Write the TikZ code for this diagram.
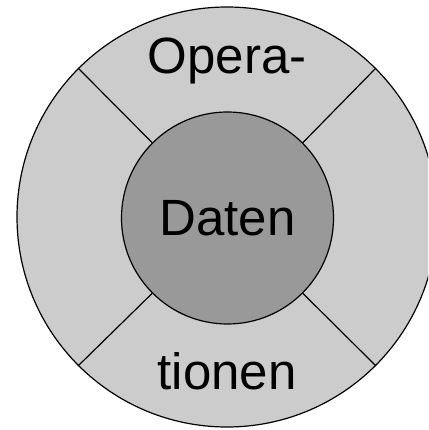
\documentclass[tikz,border=0pt]{standalone}
\usepackage{fontspec}
\setmainfont{Liberation Sans}
\usepackage{tikz}

\definecolor{ringgray}{gray}{0.8}
\definecolor{coregray}{gray}{0.6}

\tikzset{
  ring/.style={draw, circle, line width=1.2pt, fill=ringgray, minimum size=420pt, inner sep=0pt},
  core/.style={draw, circle, line width=1.2pt, fill=coregray, minimum size=212pt, inner sep=0pt},
  label/.style={anchor=base, font=\fontsize{51}{60}\selectfont}
}

\begin{document}
\begin{tikzpicture}[x=1pt, y=1pt]
    \useasboundingbox (0,0) rectangle (428,430);
    \clip (0,0) rectangle (428,430);

    % Outer ring and inner core
    \node[ring] (ops) at (227,213) {};
    \node[core, font=\fontsize{51}{60}\selectfont] (daten) at (227.5,212) {Daten};

    % Dividing spokes
    \draw[line width=1.2pt] (daten.45) -- (ops.45);
    \draw[line width=1.2pt] (daten.135) -- (ops.135);
    \draw[line width=1.2pt] (daten.225) -- (ops.225);
    \draw[line width=1.2pt] (daten.315) -- (ops.315);

    % Word split over the ring
    \node[label] (opera) at (227,356) {Opera-};
    \node[label] (tionen) at (227,40) {tionen};
\end{tikzpicture}
\end{document}
